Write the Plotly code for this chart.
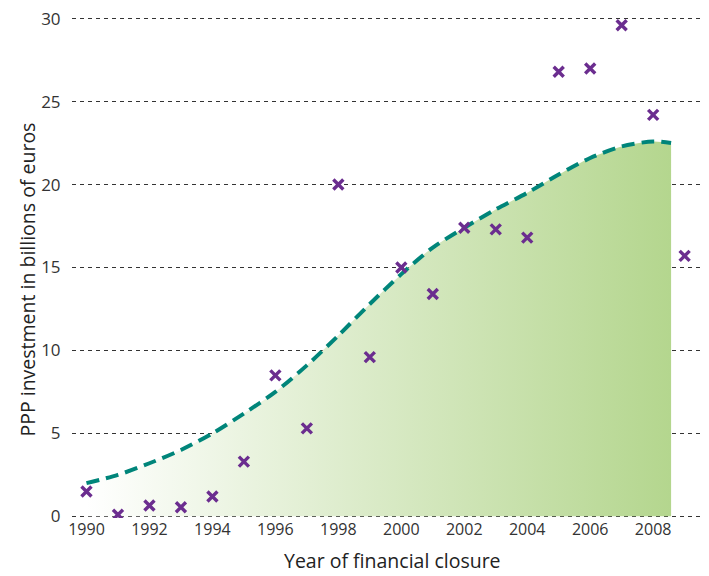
import plotly.graph_objects as go

years = list(range(1990, 2010))
investment = [1.5, 0.1, 0.65, 0.55, 1.2, 3.3, 8.5, 5.3, 20.0, 9.6,
              15.0, 13.4, 17.4, 17.3, 16.8, 26.8, 27.0, 29.6, 24.2, 15.7]

trend_years = [1990, 1991, 1992, 1993, 1994, 1995, 1996, 1997, 1998, 1999,
               2000, 2001, 2002, 2003, 2004, 2005, 2006, 2007, 2008, 2008.57]
trend_values = [2.0, 2.5, 3.2, 4.0, 5.0, 6.2, 7.5, 9.1, 10.9, 12.8,
                14.6, 16.2, 17.4, 18.5, 19.5, 20.6, 21.6, 22.3, 22.6, 22.5]

x_ticks = list(range(1990, 2010, 2))
y_ticks = [0, 5, 10, 15, 20, 25, 30]

FONT = "Open Sans"

fig = go.Figure()

fig.add_trace(go.Scatter(
    x=trend_years, y=trend_values,
    mode="lines",
    line=dict(color="#00857a", width=4, dash="13px,7px", shape="spline", smoothing=0.8),
    fill="tozeroy",
    fillgradient=dict(type="horizontal",
                      colorscale=[[0, "#ffffff"], [0.5, "#d9eac6"], [1, "#b4d68e"]]),
    hoverinfo="skip",
    showlegend=False,
))

fig.add_trace(go.Scatter(
    x=years, y=investment,
    mode="markers",
    marker=dict(symbol="x-thin", size=10, line=dict(width=3.4, color="#6b2d8f"), color="#6b2d8f"),
    showlegend=False,
))

fig.update_layout(
    width=701, height=568,
    margin=dict(l=64, r=8, t=9, b=58),
    paper_bgcolor="white",
    plot_bgcolor="white",
    font=dict(family=FONT, color="#333333"),
    xaxis=dict(
        range=[1989.54, 2009.52],
        tickvals=x_ticks,
        ticktext=[str(v) for v in x_ticks],
        showgrid=False, zeroline=False, showline=False,
        ticks="", automargin=False,
        tickfont=dict(size=16, family=FONT, color="#333333"),
    ),
    yaxis=dict(
        range=[-0.1, 30.1],
        tickvals=y_ticks,
        showgrid=True, gridcolor="#333333", griddash="4px,4px", gridwidth=1,
        zeroline=False, showline=False, automargin=False,
        ticks="outside", ticklen=7, tickcolor="rgba(0,0,0,0)",
        ticklabeloverflow="allow",
        tickfont=dict(size=17, family=FONT, color="#333333"),
    ),
    annotations=[
        dict(
            text="PPP investment in billions of euros",
            xref="paper", yref="paper", x=0, y=0.476, xshift=-44,
            xanchor="center", yanchor="middle", textangle=-90, showarrow=False,
            font=dict(size=19.5, family=FONT, color="#222222"),
        ),
        dict(
            text="Year of financial closure",
            xref="paper", yref="paper", x=0.5, y=0, xshift=6, yshift=-42,
            xanchor="center", yanchor="middle", showarrow=False,
            font=dict(size=19.5, family=FONT, color="#222222"),
        ),
    ],
)

fig.write_html("out.html")
